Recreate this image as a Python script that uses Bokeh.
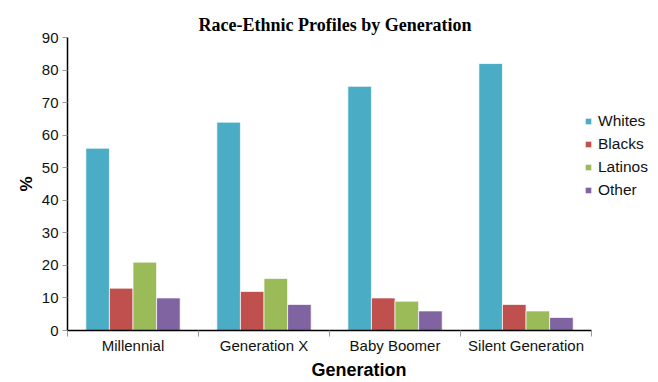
from bokeh.plotting import figure
from bokeh.models import ColumnDataSource, Range1d, FixedTicker, Legend, LegendItem
from bokeh.transform import dodge
from bokeh.embed import file_html
from bokeh.resources import INLINE

generations = ["Millennial", "Generation X", "Baby Boomer", "Silent Generation"]
whites = [56, 64, 75, 82]
blacks = [13, 12, 10, 8]
latinos = [21, 16, 9, 6]
other = [10, 8, 6, 4]
series_names = ["Whites", "Blacks", "Latinos", "Other"]
colors = ["#4BACC6", "#C0504D", "#9BBB59", "#8064A2"]

pos = [i + 0.5 for i in range(len(generations))]
src = ColumnDataSource(dict(x=pos, Whites=whites, Blacks=blacks, Latinos=latinos, Other=other))

p = figure(width=658, height=382, output_backend="svg", toolbar_location=None,
           x_range=Range1d(0, 4.45), y_range=Range1d(0, 90),
           min_border_left=67, min_border_right=8, min_border_top=37, min_border_bottom=51)
p.outline_line_color = None
p.xgrid.visible = False
p.ygrid.visible = False

offsets = [-0.27, -0.09, 0.09, 0.27]
items = []
for name, col, off in zip(series_names, colors, offsets):
    r = p.vbar(x=dodge("x", off, range=p.x_range), top=name, width=0.18, source=src,
               fill_color=col, line_color="white", line_alpha=0.7, line_width=1)
    items.append(LegendItem(label=name, renderers=[r]))

legend = Legend(items=items, location=(517, 131), orientation="vertical")
legend.background_fill_alpha = 0
legend.border_line_color = None
legend.label_text_font = "Liberation Sans"
legend.label_text_font_size = "15.5px"
legend.label_text_color = "#111111"
legend.glyph_width = 8
legend.glyph_height = 8
legend.label_height = 18
legend.spacing = 5
legend.label_standoff = 6
legend.padding = 0
legend.margin = 0
p.add_layout(legend, "center")

p.title.text = "Race-Ethnic Profiles by Generation"
p.title.text_font = "Liberation Serif"
p.title.text_font_style = "bold"
p.title.text_font_size = "18px"
p.title.align = "left"
p.title.offset = 131
p.title.standoff = 6
p.title.text_color = "#000000"

xa = p.xaxis[0]
xa.bounds = (0, 4)
xa.ticker = FixedTicker(ticks=pos, minor_ticks=[0, 1, 2, 3, 4])
xa.major_label_overrides = {p_: g for p_, g in zip(pos, generations)}
xa.major_tick_out = 0
xa.major_tick_in = 0
xa.minor_tick_out = 6
xa.minor_tick_in = 0
xa.minor_tick_line_color = "#999999"
xa.axis_line_color = "black"
xa.axis_line_width = 1.5
xa.major_label_text_font = "Liberation Sans"
xa.major_label_text_font_size = "15px"
xa.major_label_text_color = "#111111"
xa.major_label_standoff = 0
xa.axis_label = "Generation"
xa.axis_label_text_font = "Liberation Sans"
xa.axis_label_text_font_style = "bold"
xa.axis_label_text_font_size = "18px"
xa.axis_label_text_color = "#000000"
xa.axis_label_standoff = 3

ya = p.yaxis[0]
ya.ticker = FixedTicker(ticks=list(range(0, 91, 10)))
ya.major_tick_out = 5
ya.major_tick_in = 0
ya.major_tick_line_color = "#999999"
ya.minor_tick_line_color = None
ya.axis_line_color = "black"
ya.axis_line_width = 1.5
ya.major_label_text_font = "Liberation Sans"
ya.major_label_text_font_size = "15px"
ya.major_label_text_color = "#111111"
ya.major_label_standoff = 4
ya.axis_label = "%"
ya.axis_label_text_font = "Liberation Sans"
ya.axis_label_text_font_style = "bold"
ya.axis_label_text_font_size = "17px"
ya.axis_label_text_color = "#000000"
ya.axis_label_standoff = 3

open("out.html", "w").write(file_html(p, INLINE))
